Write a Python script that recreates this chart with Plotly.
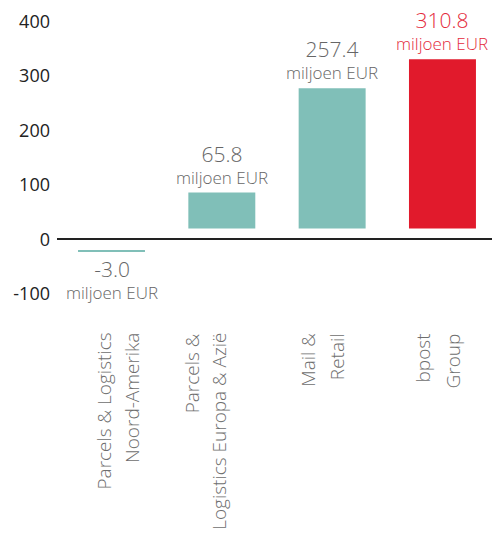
import plotly.graph_objects as go

# ---- data ----
categories = [
    "Parcels & Logistics Noord-Amerika",
    "Parcels & Logistics Europa & Azië",
    "Mail & Retail",
    "bpost Group",
]
label_lines = [
    ["Parcels & Logistics", "Noord-Amerika"],
    ["Parcels &", "Logistics Europa & Azië"],
    ["Mail &", "Retail"],
    ["bpost", "Group"],
]
values = [-3.0, 65.8, 257.4, 310.8]
unit_label = "miljoen EUR"
y_ticks = [-100, 0, 100, 200, 300, 400]

# ---- style ----
FONT = "Open Sans"
LIGHT = 300
TEAL = "#80bfb8"
RED = "#e11a2c"
bar_colors = [TEAL, TEAL, TEAL, RED]
value_colors = ["#666666", "#666666", "#666666", "#e42a3b"]
GAP = 20  # visual gap between the bars and the zero line (axis units)
bases = [GAP if v >= 0 else -GAP for v in values]
line_shifts = [(-8.5, 20.5), (-29.5, -3.5), (-24.5, 4.5), (-19.5, 10.5)]

fig = go.Figure()
fig.add_trace(go.Bar(
    x=categories, y=values, base=bases,
    marker=dict(color=bar_colors, line=dict(width=0)),
    width=0.607, hoverinfo="skip", showlegend=False,
))

annotations = []
for cat, v, b, col in zip(categories, values, bases, value_colors):
    edge = b + v
    pos = v >= 0
    annotations.append(dict(
        x=cat, y=edge, xref="x", yref="y",
        text=f"<span style='font-size:21px'>{v:.1f}</span><br>{unit_label}",
        showarrow=False, align="center",
        yanchor="bottom" if pos else "top", xanchor="center",
        yshift=2 if pos else -1,
        font=dict(family=FONT, size=17, color=col, weight=LIGHT),
    ))

for cat, lines, shifts in zip(categories, label_lines, line_shifts):
    for line, sh in zip(lines, shifts):
        annotations.append(dict(
            x=cat, y=0, xref="x", yref="paper", text=line, showarrow=False,
            textangle=-90, xanchor="center", yanchor="top", xshift=sh, yshift=-10,
            font=dict(family=FONT, size=19, color="#6e6e6e", weight=LIGHT),
        ))

fig.update_layout(
    width=492, height=536,
    margin=dict(l=57, r=0, t=10, b=215),
    plot_bgcolor="white", paper_bgcolor="white",
    font=dict(family=FONT),
    annotations=annotations,
    xaxis=dict(
        type="category", range=[-0.494, 3.449], showticklabels=False,
        showgrid=False, zeroline=False, showline=False, ticks="",
    ),
    yaxis=dict(
        range=[-150, 421], tickvals=y_ticks, ticktext=[str(t) for t in y_ticks],
        tickfont=dict(family=FONT, size=18, color="#222222"),
        showgrid=False, zeroline=True, zerolinecolor="#222222", zerolinewidth=1.5,
        showline=False, ticks="", ticklabelstandoff=6,
    ),
)

fig.write_html("out.html")
